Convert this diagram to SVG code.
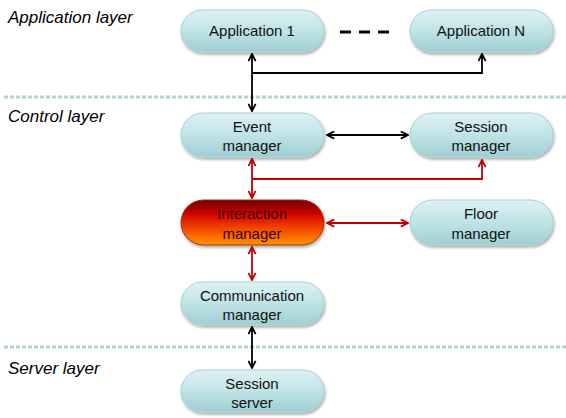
<svg xmlns="http://www.w3.org/2000/svg" width="566" height="418" viewBox="0 0 566 418">
<defs>
<linearGradient id="gBlue" x1="0" y1="0" x2="0" y2="1">
<stop offset="0" stop-color="#dff2f3"/>
<stop offset="0.5" stop-color="#bfe3e6"/>
<stop offset="1" stop-color="#9fcfd3"/>
</linearGradient>
<linearGradient id="gRed" x1="0" y1="0" x2="0" y2="1">
<stop offset="0" stop-color="#6a0000"/>
<stop offset="0.3" stop-color="#d00000"/>
<stop offset="0.6" stop-color="#f04000"/>
<stop offset="1" stop-color="#ff9400"/>
</linearGradient>
<filter id="sh" x="-10%" y="-20%" width="130%" height="160%">
<feGaussianBlur in="SourceAlpha" stdDeviation="1.5"/>
<feOffset dx="1" dy="2" result="o"/>
<feComponentTransfer><feFuncA type="linear" slope="0.35"/></feComponentTransfer>
<feMerge><feMergeNode/><feMergeNode in="SourceGraphic"/></feMerge>
</filter>
<marker id="aK" viewBox="0 0 10 10" refX="9" refY="5" markerWidth="9" markerHeight="9" orient="auto-start-reverse" markerUnits="userSpaceOnUse">
<polyline points="1,1 9,5 1,9" fill="none" stroke="#000" stroke-width="2"/>
</marker>
<marker id="aR" viewBox="0 0 10 10" refX="9" refY="5" markerWidth="9" markerHeight="9" orient="auto-start-reverse" markerUnits="userSpaceOnUse">
<polyline points="1,1 9,5 1,9" fill="none" stroke="#c00000" stroke-width="2"/>
</marker>
</defs>
<style>
.node{fill:url(#gBlue);stroke:#a9d0d4;stroke-width:1;filter:url(#sh)}
.nt{font-family:"Liberation Sans",Arial,sans-serif;font-size:15px;fill:#111;text-anchor:middle}
.layer{font-family:"Liberation Sans",Arial,sans-serif;font-size:17px;font-style:italic;fill:#000}
.sep{stroke:#b3d2d6;stroke-width:3;stroke-dasharray:4,2}
.ck{fill:none;stroke:#000;stroke-width:1.8}
.cr{fill:none;stroke:#c00000;stroke-width:1.8}
</style>
<rect width="566" height="418" fill="#fff"/>
<line class="sep" x1="4" y1="97" x2="566" y2="97"/>
<line class="sep" x1="4" y1="347" x2="566" y2="347"/>
<text class="layer" x="8" y="23">Application layer</text>
<text class="layer" x="8" y="122">Control layer</text>
<text class="layer" x="8" y="374">Server layer</text>
<line x1="340" y1="32" x2="390" y2="32" stroke="#000" stroke-width="3" stroke-dasharray="11,8"/>
<g id="connectors">
<line class="ck" x1="252" y1="54" x2="252" y2="111" marker-start="url(#aK)" marker-end="url(#aK)"/>
<polyline class="ck" points="252,73 482,73 482,54" marker-end="url(#aK)"/>
<line class="ck" x1="327" y1="135" x2="408" y2="135" marker-start="url(#aK)" marker-end="url(#aK)"/>
<line class="cr" x1="252" y1="159" x2="252" y2="198" marker-start="url(#aR)" marker-end="url(#aR)"/>
<polyline class="cr" points="252,179 482,179 482,160" marker-end="url(#aR)"/>
<line class="cr" x1="327" y1="223" x2="408" y2="223" marker-start="url(#aR)" marker-end="url(#aR)"/>
<line class="cr" x1="252" y1="247" x2="252" y2="280" marker-start="url(#aR)" marker-end="url(#aR)"/>
<line class="ck" x1="252" y1="327" x2="252" y2="368" marker-start="url(#aK)" marker-end="url(#aK)"/>
</g>
<g id="app1"><rect class="node" x="181" y="10" width="143" height="42" rx="21"/><text class="nt" x="252" y="36">Application 1</text></g>
<g id="appN"><rect class="node" x="410" y="10" width="143" height="42" rx="21"/><text class="nt" x="481" y="36">Application N</text></g>
<g id="event"><rect class="node" x="181" y="113" width="143" height="44" rx="22"/><text class="nt" x="252" y="132">Event</text><text class="nt" x="252" y="151">manager</text></g>
<g id="session"><rect class="node" x="410" y="113" width="143" height="44" rx="22"/><text class="nt" x="481" y="132">Session</text><text class="nt" x="481" y="151">manager</text></g>
<g id="interaction"><rect x="181" y="200" width="143" height="45" rx="22.5" fill="url(#gRed)" stroke="#b03000" stroke-width="1" filter="url(#sh)"/><text class="nt" x="252" y="219" style="fill:#3a0000">Interaction</text><text class="nt" x="252" y="239" style="fill:#3a0000">manager</text></g>
<g id="floor"><rect class="node" x="410" y="200" width="143" height="45" rx="22.5"/><text class="nt" x="481" y="219">Floor</text><text class="nt" x="481" y="239">manager</text></g>
<g id="comm"><rect class="node" x="181" y="282" width="143" height="43" rx="21.5"/><text class="nt" x="252" y="301">Communication</text><text class="nt" x="252" y="320">manager</text></g>
<g id="server"><rect class="node" x="181" y="370" width="143" height="42" rx="21"/><text class="nt" x="252" y="389">Session</text><text class="nt" x="252" y="408">server</text></g>
</svg>
